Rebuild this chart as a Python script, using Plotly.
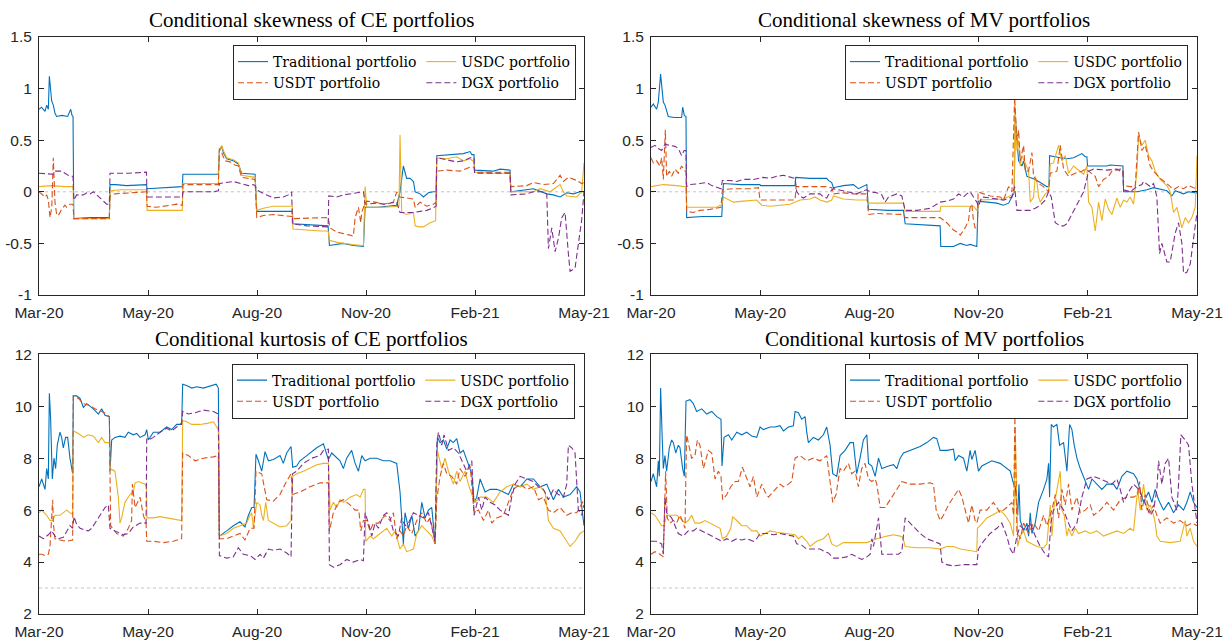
import plotly.graph_objects as go
import pandas as pd

# ---------------- data ----------------
START = "2020-03-01"
SPAN_DAYS = 426
X_TICK_LABELS = ["Mar-20", "May-20", "Aug-20", "Nov-20", "Feb-21", "May-21"]
SKEW_TICKS = [-1, -0.5, 0, 0.5, 1, 1.5]
SKEW_TICK_TEXT = ["-1", "-0.5", "0", "0.5", "1", "1.5"]
KURT_TICKS = [2, 4, 6, 8, 10, 12]
KURT_TICK_TEXT = ["2", "4", "6", "8", "10", "12"]
SERIES_NAMES = ["Traditional portfolio", "USDC portfolio", "USDT portfolio", "DGX portfolio"]
TITLES = ["Conditional skewness of CE portfolios", "Conditional skewness of MV portfolios",
          "Conditional kurtosis of CE portfolios", "Conditional kurtosis of MV portfolios"]
SKEW_REF = 0
KURT_REF = 3

# (day offset from START, value)
SK_CE_TRAD = [(0,0.80),(2,0.82),(4.7,0.78),(6,0.84),(7.3,0.80),(8.1,1.12),(9.9,0.88),(11.2,0.84),(12.5,0.76),(13.8,0.73),(18,0.74),(22.4,0.73),(24.8,0.80),(25.8,0.74),(26.6,0.73),(27.2,-0.26),(40,-0.25),(55,-0.25),(55.5,0.07),(60,0.07),(68.5,0.06),(79,0.07),(84,0.07),(84.5,0.03),(95,0.04),(112,0.05),(112.5,0.17),(140.2,0.17),(141,0.40),(142.8,0.44),(144.1,0.38),(146.7,0.32),(151.9,0.30),(155.8,0.27),(158.4,0.18),(168.9,0.17),(170.2,-0.19),(198,-0.19),(198.5,-0.31),(210,-0.32),(226,-0.33),(227,-0.52),(237.9,-0.50),(245.7,-0.52),(253.6,-0.53),(254.9,-0.15),(265,-0.15),(279.6,-0.13),(282.2,0.0),(284.8,0.25),(287.4,0.13),(290.1,0.13),(292.7,0.10),(294,0.0),(297.9,-0.02),(300.5,-0.05),(304.4,-0.01),(308.3,0.0),(310.4,0.0),(310.9,0.35),(321.3,0.36),(331.7,0.37),(337,0.39),(338.3,0.36),(340,0.36),(340.5,0.21),(355,0.20),(360.4,0.22),(368.2,0.21),(368.8,0.0),(386.5,0.03),(396.9,-0.02),(402,-0.03),(407.3,-0.05),(412.5,-0.01),(417.7,-0.02),(422.9,0.0),(426,0.0)]
SK_CE_USDC = [(0,0.05),(10,0.06),(20,0.05),(26.6,0.05),(27.2,-0.26),(55,-0.26),(55.5,0.01),(64,0.02),(84,0.02),(84.5,-0.18),(112,-0.18),(112.5,0.08),(140.2,0.08),(141,0.40),(142.8,0.45),(144.1,0.40),(146.7,0.33),(151.9,0.31),(155.8,0.28),(158.4,0.16),(168.9,0.14),(170.2,-0.18),(175.4,-0.16),(183,-0.14),(198,-0.14),(198.5,-0.36),(220,-0.38),(226,-0.38),(227,-0.47),(233,-0.49),(245,-0.51),(253.6,-0.52),(254.9,0.05),(256.2,-0.15),(270,-0.15),(281.4,-0.14),(282.2,0.55),(283.5,-0.20),(287.4,-0.22),(292.7,-0.20),(294,-0.33),(297,-0.34),(300.5,-0.34),(305.7,-0.30),(310,-0.28),(310.9,0.33),(318.7,0.32),(326.5,0.34),(331.7,0.30),(337,0.32),(340,0.29),(340.5,0.19),(355,0.18),(368.2,0.18),(368.8,0.0),(386.5,0.0),(391.7,0.03),(399.5,0.0),(407.3,0.07),(409.9,0.0),(412.5,-0.04),(420.3,-0.05),(424.2,0.0),(426,0.28)]
SK_CE_USDT = [(0,0.0),(2,-0.02),(4.7,-0.05),(6,-0.03),(7.3,-0.08),(8.6,-0.25),(10,-0.15),(11.2,0.33),(12.5,-0.10),(13.8,-0.22),(15.1,-0.23),(17.7,-0.17),(20.3,-0.13),(21.6,-0.15),(24.2,-0.12),(26.6,-0.12),(27.2,-0.26),(55,-0.26),(55.5,-0.04),(59.4,-0.02),(68.5,-0.01),(79,0.0),(84,0.0),(84.5,-0.14),(92,-0.15),(107.6,-0.12),(112,-0.13),(112.5,0.07),(140.2,0.07),(141,0.42),(142.8,0.38),(145.4,0.30),(149.3,0.29),(153.2,0.26),(155.8,0.25),(158.4,0.14),(168.9,0.12),(170.2,-0.25),(175.4,-0.23),(183.2,-0.22),(198,-0.24),(198.5,-0.26),(226,-0.25),(227.5,-0.35),(232.7,-0.39),(243.1,-0.42),(245.7,-0.43),(247.1,-0.25),(249.7,-0.15),(251.5,-0.30),(252.3,-0.20),(254.4,-0.12),(256.2,-0.09),(262.7,-0.10),(269.2,-0.12),(277,-0.10),(279.6,0.0),(282.2,-0.05),(287.4,-0.06),(292.7,-0.07),(294,-0.15),(297.9,-0.10),(303.1,-0.14),(308.3,-0.12),(310.4,-0.10),(310.9,0.20),(318.7,0.21),(329.1,0.20),(337,0.24),(340,0.24),(340.5,0.19),(368.2,0.19),(368.8,0.05),(381.3,0.06),(386.5,0.09),(394.3,0.07),(402.1,0.08),(407.3,0.16),(409.9,0.10),(413.8,0.14),(420.3,0.11),(424.2,0.08),(426,0.09)]
SK_CE_DGX = [(0,0.18),(11.2,0.17),(12.5,0.20),(17.7,0.20),(20.3,0.18),(24.2,0.15),(26.6,0.15),(27.2,-0.08),(29.4,-0.03),(34.7,-0.03),(37.3,-0.01),(39.9,-0.02),(42.5,0.0),(45.1,-0.03),(49,-0.08),(52.9,-0.12),(55,-0.12),(55.5,0.18),(70,0.18),(84,0.19),(84.5,-0.05),(112,-0.05),(112.5,0.0),(136.3,0.0),(140.2,0.01),(141,0.08),(151.9,0.10),(157.1,0.08),(163.7,0.06),(167.6,0.07),(168.9,0.06),(170.2,0.02),(172.8,0.0),(178,-0.03),(183.2,-0.06),(191,-0.05),(194.9,-0.03),(197.5,0.0),(198.1,-0.31),(209.3,-0.33),(226,-0.34),(226.5,-0.04),(232.7,-0.05),(237.9,-0.03),(251,-0.01),(253.6,0.0),(254.9,-0.12),(265,-0.11),(270,-0.12),(279.6,-0.10),(282.2,-0.20),(292.7,-0.20),(297.9,-0.19),(303.1,-0.18),(307,-0.16),(310.4,-0.14),(310.9,0.33),(318.7,0.31),(326.5,0.29),(331.7,0.30),(337,0.33),(340,0.33),(340.5,0.18),(368.2,0.18),(368.8,-0.03),(381.3,-0.02),(386.5,0.0),(394.3,0.0),(396.9,-0.02),(398.2,-0.55),(400.8,-0.35),(403.4,-0.58),(406,-0.45),(408.6,-0.25),(411.2,-0.20),(413.8,-0.60),(415.1,-0.77),(419,-0.74),(421.6,-0.50),(424.2,-0.27),(426,0.0)]

SK_MV_TRAD = [(0,0.82),(1.8,0.85),(4.4,0.80),(5.7,0.87),(7.5,1.14),(9.6,0.87),(10.9,0.84),(13.5,0.73),(18,0.72),(23.9,0.72),(24.7,0.82),(26,0.74),(27.3,0.73),(27.8,-0.25),(40,-0.24),(55.2,-0.24),(56.5,0.08),(70,0.07),(85,0.07),(85.5,0.06),(112.4,0.06),(112.9,0.14),(124,0.13),(137.1,0.13),(138.4,0.11),(141,0.09),(142.3,0.04),(150.1,0.06),(157.9,0.07),(161.8,0.03),(168.4,0.07),(169.7,-0.17),(185,-0.18),(197,-0.18),(198.3,-0.31),(217.8,-0.32),(225.6,-0.33),(226.1,-0.53),(236,-0.53),(241.3,-0.50),(246.4,-0.52),(249,-0.51),(254.2,-0.53),(255.2,-0.09),(262,-0.10),(269.8,-0.11),(275,-0.13),(279,-0.11),(281.6,-0.05),(283.4,0.0),(284.2,0.72),(285.5,0.45),(286.8,0.30),(289.4,0.25),(290.7,0.30),(293.3,0.15),(295.9,0.14),(299.8,0.12),(303.7,0.09),(308.9,0.05),(310.5,0.05),(311,0.35),(319.3,0.33),(324.5,0.32),(329.7,0.33),(336.2,0.37),(338.8,0.34),(340.1,0.34),(340.6,0.25),(355.7,0.25),(358.3,0.26),(366.1,0.25),(368.2,0.25),(368.7,0.0),(379.1,0.0),(386.9,0.02),(392.1,0.04),(402.5,0.01),(406.4,-0.04),(409,0.01),(415.5,-0.02),(419.4,0.0),(426,-0.01)]
SK_MV_USDC = [(0,0.05),(7,0.06),(9.6,0.07),(20,0.06),(27.3,0.05),(27.8,-0.15),(51.3,-0.15),(54,-0.13),(55.2,-0.13),(56.5,-0.05),(64.3,-0.10),(72.1,-0.09),(82.5,-0.08),(86.4,-0.13),(92.9,-0.14),(108.5,-0.12),(112.4,-0.10),(116.3,-0.08),(124.1,-0.07),(128,-0.05),(131.9,-0.08),(137.1,-0.10),(141,-0.08),(142.3,-0.04),(150.1,-0.07),(160.5,-0.08),(168.4,-0.08),(169.7,-0.11),(197,-0.11),(198.3,-0.19),(217.8,-0.19),(225.6,-0.19),(226.1,-0.14),(251.6,-0.14),(254.2,-0.18),(255.5,-0.12),(256.8,-0.08),(275,-0.07),(281.6,-0.03),(283.4,0.0),(283.9,0.85),(285.5,0.40),(286.8,0.50),(288.1,0.25),(289.4,0.35),(292,0.28),(294.6,0.20),(295.9,-0.10),(298.5,-0.05),(299.8,0.15),(301.1,0.10),(302.4,-0.05),(303.7,-0.10),(307.6,-0.02),(310.2,0.0),(311.5,0.27),(314,0.28),(318,0.45),(320.6,0.30),(323.2,0.35),(325.8,0.18),(329.7,0.25),(333.6,0.21),(337.5,0.17),(340.1,0.25),(341.4,-0.10),(344,-0.15),(346.6,-0.38),(349.2,-0.10),(351.8,-0.28),(354.4,-0.07),(357,-0.17),(359.6,-0.22),(363.5,-0.06),(366.1,-0.15),(368.7,-0.08),(371.3,-0.10),(373.9,-0.05),(376.5,-0.12),(379.1,0.20),(380.4,0.55),(383,0.45),(385.6,0.50),(388.2,0.35),(390.8,0.30),(393.4,0.20),(397.3,0.12),(402.5,0.06),(405.1,0.0),(407.7,-0.20),(410.3,-0.15),(414.2,-0.35),(416.8,-0.25),(419.4,-0.30),(422,-0.25),(424.6,-0.15),(426,0.35)]
SK_MV_USDT = [(0,0.33),(1.8,0.28),(4.4,0.30),(7,0.25),(8.3,0.33),(9.6,0.12),(11.2,0.60),(12.2,0.15),(14.3,0.20),(16.1,0.15),(18.7,0.22),(21.3,0.18),(23.9,0.25),(26.5,0.20),(27.3,0.20),(27.8,-0.19),(33,-0.20),(38.2,-0.18),(46.1,-0.17),(51.3,-0.16),(54.6,-0.15),(55.7,0.02),(64.3,0.03),(77.3,0.03),(83.8,0.04),(85.1,-0.08),(112.4,-0.08),(113.2,0.05),(137.1,0.05),(141,0.04),(142.3,-0.02),(150.1,-0.01),(157.9,-0.02),(168.4,-0.02),(169.7,-0.22),(176.2,-0.21),(189.2,-0.22),(197,-0.22),(198.3,-0.25),(225.6,-0.25),(230.8,-0.30),(236,-0.37),(240,-0.40),(241.3,-0.42),(245.1,-0.35),(247.7,-0.28),(249,-0.15),(250.3,-0.12),(251.6,-0.28),(252.9,-0.35),(254.7,-0.35),(255.2,0.0),(259.4,-0.02),(264.6,-0.04),(272.4,-0.05),(275,-0.08),(279,0.05),(281.6,0.0),(283.7,0.92),(285.5,0.50),(286.8,0.60),(288.1,0.30),(290.7,0.45),(292,0.20),(294.6,0.20),(297.2,0.38),(298.5,0.15),(302.4,0.08),(306.3,0.05),(310.2,0.0),(311.5,0.18),(316.7,0.20),(319.3,0.45),(321.9,0.22),(325.8,0.15),(331,0.18),(336.2,0.20),(338.8,0.22),(341.4,0.20),(346.6,0.15),(349.2,0.05),(353.1,0.12),(357,0.15),(359.6,0.20),(366.1,0.22),(368.2,0.22),(368.7,0.06),(373.9,0.05),(377.8,0.05),(380.4,0.58),(383,0.40),(385.6,0.45),(389.5,0.25),(392.1,0.20),(397.3,0.13),(402.5,0.08),(407.7,0.02),(411.6,0.05),(415.5,0.03),(419.4,0.06),(423.3,0.04),(426,0.03)]
SK_MV_DGX = [(0,0.43),(3.1,0.45),(5.7,0.42),(8.3,0.40),(10.9,0.46),(14.8,0.45),(18.7,0.44),(21.3,0.42),(23.9,0.35),(25.8,0.40),(27.3,0.40),(27.8,0.05),(30.4,0.07),(38.2,0.08),(43.5,0.09),(47.4,0.06),(51.3,0.04),(54.6,0.03),(55.7,0.11),(61.7,0.11),(66.9,0.10),(72.1,0.12),(79.9,0.12),(87.7,0.14),(92.9,0.13),(98.1,0.15),(103.3,0.16),(109.8,0.14),(112.4,0.13),(113.7,0.0),(116.3,-0.04),(118.9,-0.06),(124.1,-0.02),(131.9,-0.02),(134.5,-0.05),(137.1,-0.06),(139.7,0.0),(142.3,0.03),(150.1,0.01),(155.3,-0.01),(160.5,-0.02),(165.7,0.01),(168.4,0.02),(171,0.0),(176.2,-0.01),(180.1,-0.03),(182.7,-0.10),(185.3,-0.05),(191.8,-0.02),(195.7,-0.04),(198.3,-0.18),(207.4,-0.18),(217.8,-0.16),(225.6,-0.10),(230.8,-0.09),(236,-0.07),(240,-0.02),(243.8,-0.05),(246.4,-0.02),(249,0.0),(251.6,-0.05),(254.2,-0.10),(255.5,-0.14),(258.1,-0.05),(265,-0.06),(275,-0.08),(281.6,-0.05),(283.7,0.05),(285.5,-0.18),(295.9,-0.18),(299.8,-0.16),(303.7,-0.13),(307.6,-0.08),(310.2,0.0),(312.3,-0.05),(314,-0.18),(315.4,-0.30),(319.3,-0.33),(321.9,-0.33),(324.5,-0.31),(327.1,-0.25),(329.7,-0.18),(333.6,-0.10),(337.5,0.0),(340.1,0.13),(341.4,0.20),(345.3,0.22),(355.7,0.21),(363.5,0.22),(366.1,0.20),(368.2,0.20),(368.7,0.02),(373.9,0.0),(379.1,0.05),(383,0.07),(384.3,0.10),(389.5,0.05),(392.1,0.08),(394.7,-0.05),(396.8,-0.60),(398.6,-0.50),(402.5,-0.68),(405.1,-0.68),(409,-0.40),(411.6,-0.30),(414.2,-0.50),(415.5,-0.79),(418.1,-0.78),(420.7,-0.70),(423.3,-0.45),(426,-0.20)]

KU_CE_TRAD = [(0,6.9),(2.1,7.2),(4.7,6.8),(6,7.6),(7.3,7.2),(8.1,10.5),(9.1,9.5),(10.4,7.2),(11.7,8.0),(13,7.6),(14.3,8.5),(16.4,9.0),(17.7,8.8),(19,8.4),(20.8,8.8),(22.4,8.8),(24.2,8.0),(26.3,7.4),(26.8,10.4),(29.4,10.4),(32.1,10.3),(34.7,9.95),(37.3,10.1),(39.9,10.0),(42.5,9.9),(46.4,9.7),(49,9.9),(51.6,9.65),(55,9.6),(55.5,7.5),(56.8,8.7),(59.4,8.8),(63.3,8.85),(67.2,8.8),(69.8,9.0),(73.7,8.9),(76.4,8.95),(79,8.8),(82.9,8.9),(84.2,9.1),(85.5,8.7),(89.4,9.0),(94.6,9.0),(99.8,9.2),(103.7,9.1),(107.6,9.3),(111.5,9.3),(112.3,10.85),(115.4,10.8),(119.4,10.7),(123.3,10.75),(128.5,10.7),(136.3,10.8),(138.4,10.85),(140.2,10.7),(141,5.0),(146.7,5.2),(151.9,5.4),(157.1,5.55),(161,5.35),(163.7,5.8),(166.3,6.1),(168.1,6.1),(169.6,8.15),(171.5,7.9),(174.1,7.5),(176.7,8.25),(179.3,7.9),(183.2,7.95),(188.4,8.1),(191,7.8),(193.6,8.2),(197,8.45),(198.3,7.65),(201.4,7.7),(204,7.9),(209.3,8.1),(217.1,8.4),(222.3,8.55),(226.2,7.95),(228.8,8.2),(232.7,8.0),(235.3,7.9),(237.9,7.6),(240.5,8.0),(244.4,8.3),(247.1,7.8),(249.7,7.5),(252.3,8.1),(254.9,7.9),(258.8,8.0),(264,8.0),(269.2,7.9),(274.4,7.9),(279.6,7.8),(282.2,6.7),(283.5,5.8),(284.8,4.7),(286.1,5.9),(288.8,5.3),(291.4,5.8),(294,5.0),(296.6,5.2),(299.2,6.3),(301.8,5.7),(304.4,6.0),(307,6.1),(309.6,4.7),(311.4,8.8),(313.5,8.6),(316.1,8.7),(318.7,8.35),(321.3,8.7),(323.9,8.6),(326.5,8.75),(329.1,8.2),(331.7,8.3),(335.6,7.8),(338.3,7.4),(340.1,6.3),(342.2,6.5),(344.8,7.2),(348.7,6.7),(352.6,6.8),(357.8,6.8),(363,6.7),(366.9,6.6),(370.8,7.0),(376.1,6.9),(381.3,7.2),(386.5,7.2),(391.7,6.9),(396.9,7.0),(402.1,6.4),(406,6.8),(409.9,6.5),(415.1,6.6),(420.3,6.9),(422.9,6.7),(426,5.4)]
KU_CE_USDC = [(0,5.9),(2.1,6.0),(6,5.8),(8.6,5.6),(10.7,5.6),(12.5,5.8),(16.4,5.8),(19,5.9),(21.6,6.0),(24.2,5.9),(26.3,5.85),(26.8,9.05),(30.8,8.95),(34.7,8.8),(38.6,8.9),(42.5,8.85),(46.4,8.6),(49,8.8),(51.6,8.6),(55,8.6),(55.5,7.6),(59.4,7.5),(62,6.5),(63.3,5.5),(64.6,5.7),(67.2,6.3),(71.1,6.6),(73.7,6.7),(75.1,7.05),(77.7,7.1),(80.3,7.05),(82.9,7.0),(84,6.9),(84.4,5.7),(89.4,5.7),(94.6,5.75),(99.8,5.7),(107.6,5.65),(111.5,5.6),(112.3,9.45),(115.4,9.4),(119.4,9.3),(125.9,9.3),(132.4,9.35),(136.3,9.4),(140.2,9.1),(141,5.0),(146.7,5.1),(151.9,5.3),(157.1,5.4),(162.3,5.5),(165,5.8),(166.3,5.9),(167.6,5.3),(170.2,6.3),(172.8,6.2),(174.1,5.8),(175.4,5.6),(177.2,6.3),(179.3,5.6),(183.2,5.5),(188.4,5.35),(193.6,5.4),(197,5.6),(198.3,7.3),(201.4,7.4),(206.7,7.5),(217.1,7.75),(222.3,7.8),(226.2,7.8),(227.5,6.0),(230.1,6.3),(232.7,6.1),(235.3,6.4),(237.9,6.3),(243.1,6.5),(248.4,6.6),(251,6.5),(253.6,6.8),(254.9,6.8),(255.4,4.8),(258.8,5.0),(261.4,4.9),(266.6,5.1),(271.8,5.3),(275.7,5.0),(278.3,5.2),(282.2,4.5),(284.8,4.7),(287.4,4.4),(292.7,4.5),(295.3,5.1),(299.2,5.4),(303.1,5.2),(307,5.0),(309.6,4.7),(311.4,8.3),(314.8,7.6),(317.4,8.0),(320,7.5),(323.9,7.0),(326.5,7.5),(329.1,7.1),(333,7.5),(335.6,7.0),(338.3,6.6),(340.9,6.3),(344.8,6.5),(350,6.5),(355.2,6.3),(360.4,6.7),(365.6,6.9),(370.8,7.0),(376.1,6.9),(381.3,7.0),(386.5,6.8),(391.7,6.9),(395.6,6.7),(398.2,5.6),(402.1,5.3),(407.3,5.2),(411.2,4.9),(415.1,4.6),(419,4.8),(422.9,5.1),(426,5.2)]
KU_CE_USDT = [(0,4.3),(2.1,4.3),(4.7,4.25),(7.3,4.3),(8.6,4.6),(10.7,6.4),(11.2,5.5),(12.5,4.9),(16.4,4.85),(21.6,4.8),(26.3,4.85),(26.8,10.4),(30.8,10.3),(34.7,10.1),(38.6,10.05),(43.8,9.9),(49,9.8),(52.9,9.7),(55,9.6),(56,5.4),(60.7,5.1),(65.9,5.0),(69.8,5.3),(72.4,5.6),(73,7.0),(75.1,6.1),(79,6.5),(81.6,5.8),(83.7,5.5),(84.2,4.8),(89.4,4.8),(97.2,4.75),(105,4.8),(111.5,4.9),(112.3,8.2),(116.7,8.1),(122,7.9),(128.5,8.0),(136.3,8.05),(140.2,8.1),(141,4.9),(146.7,4.9),(151.9,5.0),(157.1,5.1),(161,4.85),(165,5.3),(168.1,5.3),(169.6,7.5),(174.1,7.4),(178,6.4),(183.2,6.35),(188.4,6.6),(192.3,7.0),(197,7.4),(198.3,6.6),(204,6.7),(211.9,6.9),(219.7,7.05),(226.2,7.05),(227,5.2),(230.1,5.9),(234,6.3),(237.9,6.4),(243.1,6.2),(247.1,6.0),(250,6.0),(251.5,5.2),(253.6,5.6),(256.2,5.6),(258.8,5.2),(261.4,5.5),(265.3,5.5),(270.5,5.8),(274.4,5.6),(277,5.9),(279.6,4.9),(282.2,5.2),(284.8,5.0),(287.4,5.4),(291.4,5.1),(295.3,5.6),(299.2,5.9),(303.1,5.5),(305.7,5.7),(308.3,5.1),(309.6,4.7),(310.9,6.4),(313.5,7.3),(316.1,7.8),(318.7,7.4),(322.6,7.3),(326.5,7.0),(329.1,7.6),(333,7.3),(337,7.7),(340.1,5.9),(343.5,6.0),(347.4,5.6),(351.3,6.0),(353.9,5.5),(357.8,5.7),(363,5.8),(366.9,6.3),(370.8,6.8),(376.1,7.0),(381.3,6.8),(386.5,6.9),(390.4,6.4),(394.3,6.5),(398.2,6.0),(402.1,5.9),(407.3,6.1),(412.5,5.8),(416.4,5.9),(420.3,5.9),(426,6.4)]
KU_CE_DGX = [(0,5.0),(3.4,4.9),(7.3,5.05),(9.9,5.2),(12.5,5.0),(15.1,4.9),(19,4.95),(21.6,5.2),(24.2,5.4),(26.3,5.3),(27.4,5.75),(29.4,5.45),(32.1,5.3),(34.7,5.25),(38.6,5.2),(41.2,5.3),(45.1,5.6),(49,5.9),(51.6,6.1),(54.2,6.2),(55.5,5.3),(59.4,5.2),(65.9,5.05),(69.8,5.1),(73.7,5.35),(79,5.5),(83.7,5.5),(84.2,8.75),(85.5,8.7),(89.4,8.8),(94.6,9.0),(99.8,9.15),(103.7,9.05),(107.6,9.2),(111.5,9.35),(112.3,9.8),(116.7,9.7),(122,9.75),(128.5,9.85),(136.3,9.8),(140.2,9.7),(141,4.25),(146.7,4.15),(151.9,4.2),(155.8,4.55),(159.7,4.3),(165,4.25),(168.9,4.1),(172.8,4.3),(175.4,4.15),(179.3,4.5),(183.2,4.45),(188.4,4.5),(193.6,4.35),(197,4.2),(198.1,7.4),(201.4,7.5),(206.7,7.8),(213.2,8.0),(219.7,8.1),(222.3,8.3),(226.2,8.35),(227,3.9),(230.1,3.8),(235.3,3.9),(240.5,4.1),(245.7,4.0),(251,4.1),(253.6,4.05),(254.9,5.9),(257.5,5.5),(260.1,5.0),(262.7,5.5),(265.3,5.3),(269.2,5.8),(271.8,5.9),(274.4,5.7),(277,5.2),(280.9,5.0),(283.5,5.7),(286.1,5.4),(288.8,5.5),(292.7,5.9),(296.6,5.8),(300.5,5.7),(304.4,5.9),(307,5.3),(309.6,4.8),(310.9,8.5),(312.2,9.0),(314.8,8.5),(316.6,8.9),(320,8.3),(323.9,8.4),(327.8,8.2),(331.7,7.8),(334.3,7.5),(338.3,7.9),(340.1,5.8),(343.5,6.5),(346.1,6.0),(348.7,6.5),(352.6,6.3),(356.5,6.2),(360.4,6.0),(366.9,5.8),(369.5,6.5),(372.1,7.0),(376.1,7.3),(381.3,7.2),(386.5,7.1),(390.4,6.9),(394.3,6.8),(398.2,6.4),(402.1,6.8),(406,6.6),(409.9,6.5),(412.5,7.0),(413.8,8.5),(416.4,8.4),(419,8.2),(421.6,6.0),(424.2,5.8),(426,6.2)]

KU_MV_TRAD = [(0,7.1),(1.8,7.4),(4.4,6.9),(5.7,7.9),(6.5,7.3),(7.5,10.7),(8.6,9.0),(9.6,7.6),(10.9,8.1),(12.2,7.5),(14.3,8.4),(16.1,8.7),(17.4,8.6),(19.3,8.2),(21.3,8.5),(22.6,8.4),(24.7,7.6),(26,7.3),(27.3,10.2),(30.4,10.25),(33,10.1),(35.6,9.8),(39.6,9.9),(43.5,9.7),(47.4,9.8),(51.3,9.6),(54.6,9.5),(55.4,7.7),(57,8.8),(60.4,8.9),(63,8.7),(66.9,9.0),(70.8,8.9),(74.7,9.0),(78.6,8.85),(82.5,8.8),(85.1,9.2),(87.7,9.1),(92.9,9.2),(96.8,9.2),(100.7,9.25),(103.3,9.05),(107.2,9.2),(111.1,9.25),(112.4,9.8),(115,9.75),(117.6,9.5),(120.2,9.6),(121.5,9.0),(122.8,8.6),(126.7,8.8),(130.6,8.7),(134.5,8.9),(137.1,9.2),(139.7,8.5),(141.8,7.4),(144.9,7.3),(147.5,8.1),(151.4,8.3),(155.3,8.6),(157.9,8.6),(160.5,7.4),(163.1,8.0),(165.7,8.7),(168.4,8.9),(169.7,7.8),(172.3,7.7),(174.9,7.3),(177.5,8.0),(180.1,7.6),(185.3,7.7),(189.2,7.75),(191.8,7.6),(194.4,8.0),(197,8.2),(202.2,8.3),(210,8.45),(215.2,8.6),(220.4,8.8),(223,8.75),(224.3,8.5),(225.6,8.3),(230.8,8.3),(236,8.35),(237.3,7.9),(240,8.1),(243.8,8.0),(246.4,7.5),(249,8.3),(250.3,7.95),(252.9,8.3),(255.5,7.5),(258.1,7.7),(262,7.8),(265.9,7.9),(272.4,7.8),(277.6,7.6),(280.3,7.5),(282.9,7.0),(284.2,6.9),(286.1,5.8),(287.1,7.0),(288.1,5.6),(290.7,5.2),(293.3,5.5),(294.6,5.0),(295.9,5.9),(297.2,5.1),(299.8,5.5),(302.4,6.3),(306.3,6.8),(308.9,7.2),(310.2,7.8),(311,6.5),(312.3,9.3),(314,9.2),(316.7,9.3),(318.8,8.5),(321.9,8.6),(324.5,7.5),(326.6,9.3),(328.4,9.1),(330.2,8.5),(332.3,8.0),(334.9,7.6),(337.5,7.3),(340.1,7.0),(341.4,6.8),(344,7.2),(347.9,7.0),(351.8,6.8),(355.7,7.0),(360.9,7.0),(363.5,6.8),(367.4,7.3),(371.3,7.5),(376.5,7.4),(379.1,7.2),(381.7,6.7),(384.3,6.3),(388.2,6.7),(390.8,6.3),(393.4,6.8),(396,6.4),(399.9,6.0),(403.8,6.3),(407.7,5.9),(411.6,6.2),(415.5,6.0),(418.1,6.3),(420.7,6.7),(423.3,6.3),(426,6.1)]
KU_MV_USDC = [(0,5.9),(3.1,5.8),(5.7,5.6),(8.3,5.4),(10.1,5.4),(12.2,5.8),(16.1,5.8),(20,5.8),(22.6,5.7),(26.5,5.5),(29.1,5.6),(31.7,5.8),(34.3,5.5),(38.2,5.5),(42.2,5.6),(46.1,5.5),(50,5.4),(53.9,5.3),(55.7,4.9),(59.1,5.0),(62.2,5.3),(63.7,5.75),(66.9,5.6),(70.8,5.4),(74.7,5.4),(78.6,5.2),(82.5,5.2),(85.1,5.0),(89,5.1),(92.9,5.2),(98.1,5.15),(105.9,5.1),(112.4,5.05),(115,4.9),(117.6,5.0),(121.5,4.8),(124.1,4.6),(129.3,4.8),(134.5,4.9),(138.4,5.1),(141,4.7),(144.9,4.6),(150.1,4.75),(160.5,4.75),(168.4,4.75),(171,4.8),(176.2,4.9),(184,5.0),(189.2,5.05),(194.4,5.0),(196.5,4.95),(198.3,4.6),(207.4,4.55),(217.8,4.55),(225.6,4.5),(230.8,4.6),(236,4.6),(241.3,4.5),(246.4,4.45),(251.6,4.4),(254.2,4.4),(254.7,5.3),(256.8,5.4),(262,5.7),(269.8,5.9),(272.4,6.0),(276.3,5.8),(280.3,5.5),(282.9,5.0),(284.2,9.2),(286.1,4.6),(288.1,5.0),(290.7,5.2),(293.3,4.8),(297.2,4.7),(301.1,4.6),(306.3,4.55),(308.9,4.7),(311.5,6.2),(312.8,5.0),(314.6,6.2),(316.7,6.8),(319.3,7.5),(320.6,6.0),(322.4,5.8),(324.5,5.0),(325.8,5.3),(328.4,5.0),(331,5.3),(333.6,5.1),(338.8,5.2),(342.7,5.1),(347.9,5.2),(353.1,5.0),(358.3,5.1),(363.5,5.2),(368.7,5.1),(373.9,5.3),(376.5,5.2),(379.7,6.8),(381.7,6.0),(384.3,7.0),(386.9,6.0),(389.5,6.2),(392.1,5.8),(393.4,5.5),(394.7,5.0),(397.3,4.8),(405.1,4.75),(412.9,4.8),(416.8,5.6),(418.1,5.0),(420.7,5.3),(423.3,4.8),(426,4.6)]
KU_MV_USDT = [(0,4.3),(3.1,4.4),(7,4.3),(9.6,4.2),(11.4,7.5),(12.7,5.7),(14.8,5.5),(17.4,5.6),(20,5.5),(22.6,5.8),(25.2,5.5),(26.5,5.3),(27.8,8.9),(29.9,8.4),(31.7,8.0),(34.3,8.1),(36.2,8.7),(38.2,8.5),(40.9,7.6),(44.8,8.3),(47.4,8.2),(50,7.2),(52.6,7.5),(54.6,7.3),(55.9,6.4),(59.1,6.6),(62.2,6.9),(65.6,7.1),(68.2,7.1),(71.3,7.65),(74.2,7.3),(77.3,6.9),(79.9,7.3),(82.5,6.5),(86.4,7.0),(89,6.7),(91.6,6.5),(95.5,6.7),(100.7,7.0),(103.3,6.9),(107.2,7.0),(109.8,7.1),(112.4,8.0),(116.3,8.1),(121.5,7.9),(126.7,8.0),(131.9,7.9),(137.1,8.1),(141.8,6.3),(144.4,6.6),(147.5,7.6),(150.1,7.5),(154,7.8),(156.6,7.4),(159.2,7.5),(161.8,6.9),(164.4,7.6),(167,7.8),(169.7,7.2),(172.3,7.1),(174.9,7.2),(176.2,7.0),(178.8,6.1),(182.7,6.1),(186.6,6.4),(191.8,6.8),(195.7,7.1),(202.2,7.0),(210,7.0),(217.8,7.05),(220.4,7.0),(222.5,6.0),(225.6,5.6),(228.2,5.8),(232.1,6.2),(236,6.5),(240,6.8),(242.6,6.5),(245.1,6.0),(247.7,5.5),(250.3,6.2),(252.9,5.6),(254.2,5.5),(256.8,6.0),(262,6.0),(267.2,6.3),(272.4,5.9),(277.6,6.1),(281.6,6.3),(282.9,5.8),(283.9,9.6),(285.5,5.2),(288.1,4.9),(290.7,5.5),(294.6,5.1),(298.5,5.5),(302.4,5.2),(306.3,5.8),(308.9,5.4),(312.8,6.0),(315.4,6.6),(318,5.7),(320.6,6.8),(323.2,6.2),(325.8,7.0),(328.4,6.0),(332.3,6.5),(334.9,5.9),(338.8,6.0),(342.7,6.2),(345.3,5.8),(350.5,6.0),(355.7,6.3),(360.9,6.0),(366.1,6.4),(371.3,6.5),(376.5,6.5),(379.7,6.6),(381.2,7.1),(383,6.0),(385.6,6.6),(389.5,5.9),(392.1,6.2),(394.7,5.8),(397.3,5.5),(402.5,5.7),(407.7,5.5),(412.9,5.6),(418.1,5.4),(422,5.5),(426,5.4)]
KU_MV_DGX = [(0,4.8),(4.4,4.8),(8.3,4.7),(9.6,4.3),(10.9,6.5),(12.2,5.9),(16.1,5.7),(18.7,5.4),(21.3,5.1),(25.2,5.0),(29.1,5.2),(33,5.2),(35.6,5.3),(39.6,5.2),(43.5,5.1),(47.4,5.0),(51.3,4.9),(55.2,4.8),(59.1,4.9),(63,4.8),(66.9,4.9),(70.8,4.85),(74.7,4.9),(79.9,4.8),(82.5,4.9),(85.1,5.1),(90.3,5.1),(95.5,5.05),(100.7,5.1),(107.2,5.05),(111.1,5.0),(113.7,4.7),(117.6,4.65),(121.5,4.5),(126.7,4.5),(131.9,4.5),(135.8,4.4),(138.4,4.35),(142.3,4.15),(147.5,4.15),(152.7,4.2),(156.6,4.3),(160.5,4.2),(164.4,4.1),(168.4,4.2),(171,4.3),(172.3,4.9),(173.6,4.6),(177.5,5.7),(180.1,4.3),(186.6,4.3),(193.1,4.3),(195.7,4.4),(198.3,5.7),(202.2,5.5),(210,5.1),(215.2,4.9),(220.4,4.8),(225.6,4.7),(226.9,4.0),(230.8,3.9),(236,3.85),(243.8,3.9),(251.6,3.9),(254.2,3.9),(255.5,4.5),(259.4,4.8),(264.6,5.1),(269.8,5.3),(273.7,5.5),(277.6,5.0),(280.3,4.5),(282.9,4.3),(285.5,5.0),(288.1,5.4),(292,5.2),(295.9,5.5),(299.8,5.0),(303.7,4.6),(307.6,4.3),(310.2,4.2),(312,5.5),(314,6.0),(318,6.3),(321.9,6.0),(325.8,5.5),(328.4,5.2),(332.3,5.5),(336.2,6.5),(340.1,7.2),(345.3,7.3),(350.5,7.2),(355.7,7.1),(359.6,7.0),(363.5,7.2),(366.1,6.8),(368.7,6.3),(372.6,6.7),(376.5,7.0),(380.4,6.8),(384.3,6.4),(389.5,5.8),(392.1,6.0),(394.7,6.8),(396,7.9),(398.6,7.0),(401.2,7.8),(403.8,8.0),(406.4,6.5),(410.3,6.0),(411.6,7.0),(413.4,8.9),(416.8,8.7),(419.4,8.5),(422,7.0),(424.6,6.0),(426,5.5)]

# ---------------- styling ----------------
COLORS = ["#0072BD", "#EDB120", "#D95319", "#7E2F8E"]
DASHES = ["solid", "solid", "6px,3px", "6px,3px"]
AXIS_COLOR = "#262626"
TICK_FONT = dict(family="Liberation Sans, Arial, sans-serif", size=15.5, color=AXIS_COLOR)
TITLE_FONT = dict(family="Liberation Serif, Times New Roman, serif", size=21, color="black")
LEGEND_FONT = dict(family="DejaVu Serif, serif", size=14, color="black")

W, H = 1232, 641
ML, MR, MT, MB = 39, 35, 37, 27
PW, PH = W - ML - MR, H - MT - MB


def px_x(p):
    return (p - ML) / PW


def px_y(p):
    return (H - MB - p) / PH


X_LEFT = [0, px_x(584)]
X_RIGHT = [px_x(651), 1]
Y_TOP = [px_y(295), 1]
Y_BOT = [0, px_y(354.3)]

start = pd.Timestamp(START)


def to_dates(days):
    return [start + pd.to_timedelta(d, unit="D") for d in days]


tickvals = [start + pd.to_timedelta(SPAN_DAYS * k / 5, unit="D") for k in range(6)]
xrange_ = [start, start + pd.to_timedelta(SPAN_DAYS, unit="D")]

panels = [
    dict(series=[SK_CE_TRAD, SK_CE_USDC, SK_CE_USDT, SK_CE_DGX], xd=X_LEFT, yd=Y_TOP, kind="skew"),
    dict(series=[SK_MV_TRAD, SK_MV_USDC, SK_MV_USDT, SK_MV_DGX], xd=X_RIGHT, yd=Y_TOP, kind="skew"),
    dict(series=[KU_CE_TRAD, KU_CE_USDC, KU_CE_USDT, KU_CE_DGX], xd=X_LEFT, yd=Y_BOT, kind="kurt"),
    dict(series=[KU_MV_TRAD, KU_MV_USDC, KU_MV_USDT, KU_MV_DGX], xd=X_RIGHT, yd=Y_BOT, kind="kurt"),
]
legend_pos = [(px_x(576), px_y(45)), (px_x(1188), px_y(45)), (px_x(575), px_y(363.5)), (px_x(1188), px_y(363.5))]

fig = go.Figure()
layout = dict(width=W, height=H, margin=dict(l=ML, r=MR, t=MT, b=MB, pad=0, autoexpand=False),
              paper_bgcolor="white", plot_bgcolor="white", showlegend=True)
annotations = []
shapes = []

for pi, p in enumerate(panels):
    n = "" if pi == 0 else str(pi + 1)
    xa, ya = "x" + n, "y" + n
    lg = "legend" + n
    for si, data in enumerate(p["series"]):
        d = [a for a, b in data]
        v = [b for a, b in data]
        fig.add_trace(go.Scatter(
            x=to_dates(d), y=v, mode="lines", name=SERIES_NAMES[si],
            line=dict(color=COLORS[si], width=1.1, dash=DASHES[si]),
            xaxis=xa, yaxis=ya, legend=lg, legendgroup=f"p{pi}g{si % 2}",
        ))
    common = dict(showline=True, linecolor=AXIS_COLOR, linewidth=1, mirror="ticks",
                  ticks="inside", ticklen=5, tickcolor=AXIS_COLOR, tickwidth=1,
                  showgrid=False, zeroline=False, tickfont=TICK_FONT, automargin=False)
    layout["xaxis" + n] = dict(domain=p["xd"], anchor=ya, type="date", range=xrange_,
                               tickmode="array", tickvals=tickvals, ticktext=X_TICK_LABELS,
                               ticklabelstandoff=3, **common)
    if p["kind"] == "skew":
        layout["yaxis" + n] = dict(domain=p["yd"], anchor=xa, range=[-1, 1.5], tickmode="array",
                                   tickvals=SKEW_TICKS, ticktext=SKEW_TICK_TEXT,
                                   ticklabelstandoff=3, **common)
        ref = SKEW_REF
    else:
        layout["yaxis" + n] = dict(domain=p["yd"], anchor=xa, range=[2, 12], tickmode="array",
                                   tickvals=KURT_TICKS, ticktext=KURT_TICK_TEXT,
                                   ticklabelstandoff=3, **common)
        ref = KURT_REF
    shapes.append(dict(type="line", xref=xa + " domain", yref=ya, x0=0, x1=1, y0=ref, y1=ref,
                       line=dict(color="#b4b4b4", width=0.8, dash="dot"), layer="below"))
    lx, ly = legend_pos[pi]
    layout[lg] = dict(x=lx, y=ly, xanchor="right", yanchor="top", orientation="h",
                      traceorder="grouped", tracegroupgap=0, bgcolor="white",
                      bordercolor=AXIS_COLOR, borderwidth=1, font=LEGEND_FONT)
    cx = (p["xd"][0] + p["xd"][1]) / 2
    ty = px_y(20) if p["yd"] == Y_TOP else px_y(339)
    annotations.append(dict(text=TITLES[pi], x=cx, y=ty, xref="paper", yref="paper",
                            xanchor="center", yanchor="middle", showarrow=False,
                            font=TITLE_FONT))

layout["annotations"] = annotations
layout["shapes"] = shapes
fig.update_layout(**layout)
fig.write_html("out.html")
